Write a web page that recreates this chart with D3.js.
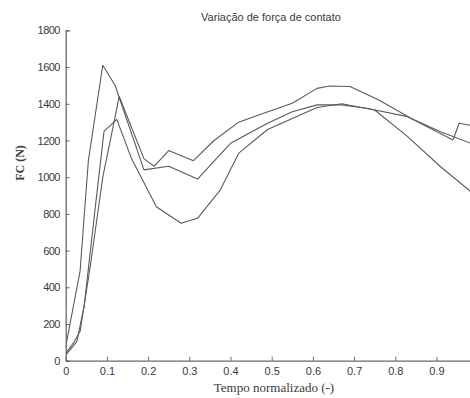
<!DOCTYPE html>
<html>
<head>
<meta charset="utf-8">
<script src="https://cdn.jsdelivr.net/npm/d3@7"></script>
<style>
  html, body { margin: 0; padding: 0; background: #fff; }
  svg { display: block; }
</style>
</head>
<body>
<svg id="chart" width="470" height="398"></svg>
<script>
// Contact force curves over normalized time (three trials)
const timeA  = [0, 0.01, 0.035, 0.055, 0.09, 0.12, 0.19, 0.25, 0.32, 0.40, 0.49, 0.55, 0.61, 0.67, 0.73, 0.83, 0.94, 0.955, 1.0];
const forceA = [75, 195, 490, 1090, 1610, 1500, 1040, 1060, 990, 1185, 1294, 1357, 1394, 1394, 1376, 1330, 1203, 1294, 1275];

const timeB  = [0, 0.02, 0.035, 0.06, 0.09, 0.13, 0.19, 0.215, 0.25, 0.31, 0.36, 0.42, 0.47, 0.55, 0.61, 0.64, 0.69, 0.76, 0.84, 0.91, 1.0];
const forceB = [40, 100, 160, 520, 1000, 1440, 1100, 1060, 1145, 1090, 1200, 1300, 1340, 1403, 1484, 1497, 1494, 1421, 1319, 1248, 1170];

const timeC  = [0, 0.027, 0.045, 0.07, 0.093, 0.124, 0.16, 0.22, 0.28, 0.32, 0.375, 0.42, 0.49, 0.61, 0.67, 0.75, 0.83, 0.91, 1.0];
const forceC = [30, 104, 300, 800, 1250, 1315, 1100, 839, 749, 776, 930, 1131, 1260, 1380, 1400, 1366, 1221, 1057, 890];

const xTicks = [0, 0.1, 0.2, 0.3, 0.4, 0.5, 0.6, 0.7, 0.8, 0.9];
const yTicks = [0, 200, 400, 600, 800, 1000, 1200, 1400, 1600, 1800];

const titleText = "Variação de força de contato";
const xLabel = "Tempo normalizado (-)";
const yLabel = "FC (N)";

const svg = d3.select("#chart");
const W = 470, H = 398;

const x = d3.scaleLinear().domain([0, 1]).range([65.7, 477.7]);
const y = d3.scaleLinear().domain([0, 1800]).range([360.7, 30.4]);

const axisColor = "#6a6a6a";
const textColor = "#3a3a3a";

// clip region for the plot area
svg.append("defs").append("clipPath").attr("id", "plotClip")
  .append("rect").attr("x", x(0)).attr("y", 0).attr("width", W - x(0)).attr("height", y(0));

// series
const series = [
  { t: timeA, f: forceA },
  { t: timeB, f: forceB },
  { t: timeC, f: forceC }
];
const line = d3.line().x(d => x(d[0])).y(d => y(d[1]));
svg.append("g").attr("clip-path", "url(#plotClip)")
  .selectAll("path").data(series).join("path")
  .attr("d", s => line(s.t.map((t, i) => [t, s.f[i]])))
  .attr("fill", "none")
  .attr("stroke", "#5a5a5a")
  .attr("stroke-width", 1.1)
  .attr("stroke-linejoin", "round");

// x axis (ticks pointing inward)
const xAxis = d3.axisBottom(x).tickValues(xTicks).tickSizeInner(-4).tickSizeOuter(0)
  .tickPadding(7).tickFormat(d => d === 0 ? "0" : d3.format(".1f")(d));
const gx = svg.append("g").attr("transform", `translate(0,${y(0)})`).call(xAxis);
gx.select(".domain").attr("stroke", axisColor).attr("stroke-width", 1.3);
gx.selectAll(".tick line").attr("stroke", axisColor);
gx.selectAll(".tick text").attr("fill", textColor)
  .attr("font-family", "Liberation Sans, Arial, sans-serif").attr("font-size", 11);

// y axis (ticks pointing inward)
const yAxis = d3.axisLeft(y).tickValues(yTicks).tickSizeInner(-4).tickSizeOuter(-4)
  .tickPadding(6).tickFormat(d3.format("d"));
const gy = svg.append("g").attr("transform", `translate(${x(0)},0)`).call(yAxis);
gy.select(".domain").attr("stroke", axisColor).attr("stroke-width", 1.3);
gy.selectAll(".tick line").attr("stroke", axisColor);
gy.selectAll(".tick text").attr("fill", textColor)
  .attr("font-family", "Liberation Sans, Arial, sans-serif").attr("font-size", 11)
  .attr("letter-spacing", "-0.6px");

// title
svg.append("text").attr("x", 271).attr("y", 21).attr("text-anchor", "middle")
  .attr("fill", textColor).attr("font-family", "Liberation Sans, Arial, sans-serif")
  .attr("font-size", 11).text(titleText);

// x label
svg.append("text").attr("x", 274).attr("y", 392).attr("text-anchor", "middle")
  .attr("fill", textColor).attr("font-family", "Liberation Serif, Times New Roman, serif")
  .attr("font-size", 13).text(xLabel);

// y label
svg.append("text").attr("transform", "translate(24,163) rotate(-90)").attr("text-anchor", "middle")
  .attr("fill", textColor).attr("font-family", "Liberation Serif, Times New Roman, serif")
  .attr("font-weight", "bold").attr("font-size", 12).text(yLabel);
</script>
</body>
</html>
